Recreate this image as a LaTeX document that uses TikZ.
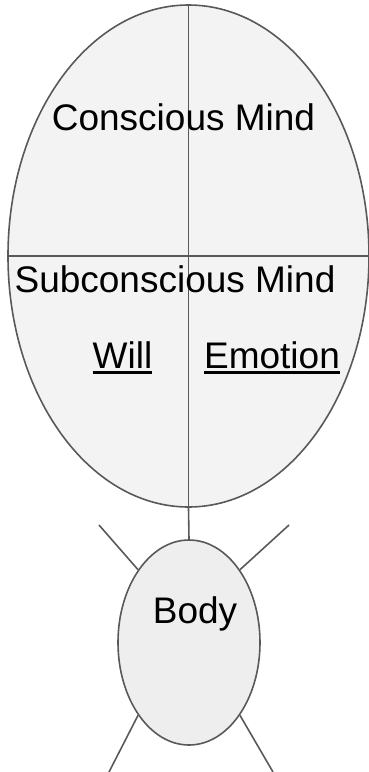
\documentclass[tikz,border=0pt]{standalone}
\usepackage{fontspec}
\setmainfont{Liberation Sans}
\usepackage{tikz}
\usetikzlibrary{shapes.geometric,positioning}
\definecolor{trazo}{HTML}{595959}
\definecolor{mente}{HTML}{F3F3F3}
\definecolor{cuerpo}{HTML}{EEEEEE}
\newcommand{\subraya}[1]{\setbox0\hbox{#1}\rlap{\rule[-6pt]{\wd0}{3pt}}\box0}
\tikzset{
  blob/.style={draw=trazo,line width=1.6pt,ellipse,inner sep=0pt},
  mindblob/.style={blob,fill=mente,minimum width=361pt,minimum height=502pt},
  bodyblob/.style={blob,fill=cuerpo,minimum width=142pt,minimum height=205pt},
  limb/.style={draw=trazo,line width=1.6pt},
  label/.style={anchor=base,inner sep=0pt,font=\fontsize{37}{44}\selectfont}
}
\begin{document}
\begin{tikzpicture}[x=1pt,y=-1pt]
\useasboundingbox (0,0) rectangle (368,772);
\node[mindblob] (mind) at (188.5,256) {};
\node[bodyblob] (body) at (189,642.5) {};
\draw[limb] (mind.north) -- (mind.south);
\draw[limb] (mind.west) -- (mind.east);
\draw[limb] (mind.south) -- (body.north);
% arms and legs
\coordinate (armL) at (99,525);
\coordinate (armR) at (289,525);
\coordinate (legL) at (109,772);
\coordinate (legR) at (273,772);
\draw[limb] (body.125) -- (armL);
\draw[limb] (body.55) -- (armR);
\draw[limb] (body.235) -- (legL);
\draw[limb] (body.305) -- (legR);
\node[label] (conscious) at (183.5,130) {Conscious Mind};
\node[label] (subconscious) at (175,292) {Subconscious Mind};
\node[label] (will) at (122.5,368) {\subraya{Will}};
\node[label] (emotion) at (272,368) {\subraya{Emotion}};
\node[label] (bodytext) at (195,623) {Body};
\end{tikzpicture}
\end{document}
